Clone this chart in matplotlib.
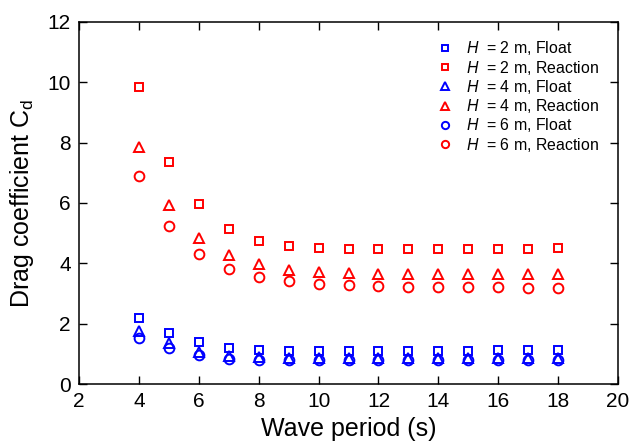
import matplotlib
matplotlib.use("Agg")
import matplotlib.pyplot as plt

plt.rcParams["font.family"] = ["Liberation Sans", "DejaVu Sans"]
plt.rcParams["mathtext.fontset"] = "custom"
plt.rcParams["mathtext.rm"] = "Liberation Sans"
plt.rcParams["mathtext.it"] = "Liberation Sans:italic"

# Wave periods (s)
periods = [4, 5, 6, 7, 8, 9, 10, 11, 12, 13, 14, 15, 16, 17, 18]

# Drag coefficients
h2_float = [2.20, 1.70, 1.38, 1.20, 1.12, 1.10, 1.09, 1.09, 1.09, 1.10, 1.10, 1.11, 1.12, 1.12, 1.14]
h2_reaction = [9.85, 7.37, 5.97, 5.13, 4.73, 4.57, 4.50, 4.47, 4.47, 4.47, 4.48, 4.48, 4.48, 4.49, 4.50]
h4_float = [1.75, 1.35, 1.05, 0.93, 0.88, 0.86, 0.85, 0.85, 0.85, 0.85, 0.85, 0.85, 0.85, 0.85, 0.85]
h4_reaction = [7.85, 5.93, 4.83, 4.27, 3.97, 3.77, 3.70, 3.67, 3.66, 3.65, 3.65, 3.65, 3.64, 3.64, 3.64]
h6_float = [1.52, 1.18, 0.96, 0.84, 0.80, 0.79, 0.79, 0.79, 0.79, 0.79, 0.79, 0.79, 0.79, 0.79, 0.79]
h6_reaction = [6.90, 5.23, 4.30, 3.80, 3.53, 3.40, 3.30, 3.27, 3.25, 3.23, 3.22, 3.21, 3.20, 3.19, 3.18]

series = [
    (h2_float, "s", "blue", r"$\it{H}$  = 2 m, Float", 6),
    (h2_reaction, "s", "red", r"$\it{H}$  = 2 m, Reaction", 6),
    (h4_float, "^", "blue", r"$\it{H}$  = 4 m, Float", 7.5),
    (h4_reaction, "^", "red", r"$\it{H}$  = 4 m, Reaction", 7.5),
    (h6_float, "o", "blue", r"$\it{H}$  = 6 m, Float", 7),
    (h6_reaction, "o", "red", r"$\it{H}$  = 6 m, Reaction", 7),
]

fig = plt.figure(figsize=(6.32, 4.46), dpi=100)
ax = fig.add_axes([0.125, 0.139, 0.853, 0.812])

for vals, m, c, lab, ms in series:
    ax.plot(periods, vals, linestyle="none", marker=m, markersize=ms,
            markerfacecolor="none", markeredgecolor=c, markeredgewidth=1.4,
            label=lab)

ax.set_xlim(2, 20)
ax.set_ylim(0, 12)
ax.set_xticks(range(2, 21, 2))
ax.set_yticks(range(0, 13, 2))
ax.tick_params(direction="in", length=6, width=1.0, top=True, right=True,
               labelsize=15, pad=6)
for sp in ax.spines.values():
    sp.set_linewidth(1.1)

ax.set_xlabel("Wave period (s)", fontsize=18, labelpad=4)
ax.set_ylabel(r"Drag coefficient C$_\mathrm{d}$", fontsize=18, labelpad=8)

leg = ax.legend(loc="upper right", bbox_to_anchor=(0.99, 0.991), frameon=False,
                fontsize=11.4, markerscale=0.75, handletextpad=0.6,
                labelspacing=0.08, handlelength=1.4)

fig.savefig("out.png", dpi=100)
